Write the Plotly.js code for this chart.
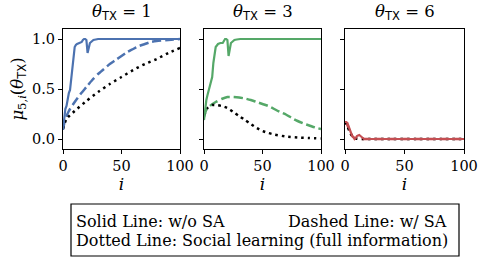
<!DOCTYPE html>
<html>
<head>
<meta charset="utf-8">
<script src="https://cdn.plot.ly/plotly-3.0.1.min.js"></script>
<style>body{margin:0;padding:0;background:#fff}#chart{width:485px;height:260px}</style>
</head>
<body>
<div id="chart"></div>
<script>
// ---- data ----
var thetaValues = [1, 3, 6];

// panel 1 (theta = 1)
var p1SolidX = [0, 1, 2, 3, 4, 5, 6, 7, 8, 9, 10, 11, 12, 14, 16, 17, 18, 19, 20, 21, 22, 23, 24, 26, 28, 30, 40, 60, 80, 100];
var p1SolidY = [0.09, 0.2, 0.3, 0.33, 0.42, 0.46, 0.49, 0.6, 0.72, 0.85, 0.92, 0.94, 0.95, 0.96, 0.97, 0.99, 1.0, 1.0, 0.99, 0.86, 0.92, 0.96, 0.97, 0.99, 0.995, 1.0, 1.0, 1.0, 1.0, 1.0];
var p1DashX = [0, 2, 5, 10, 15, 20, 25, 30, 35, 40, 45, 50, 55, 60, 65, 70, 75, 80, 90, 100];
var p1DashY = [0.1, 0.2, 0.28, 0.37, 0.45, 0.52, 0.59, 0.65, 0.7, 0.75, 0.79, 0.83, 0.87, 0.9, 0.93, 0.95, 0.97, 0.98, 0.99, 1.0];
var p1DotX = [0, 3, 10, 20, 30, 40, 50, 60, 70, 80, 90, 100];
var p1DotY = [0.1, 0.2, 0.28, 0.38, 0.47, 0.55, 0.62, 0.69, 0.75, 0.8, 0.86, 0.91];

// panel 2 (theta = 3)
var p2SolidX = [0, 1, 2, 3, 4, 5, 6, 7, 8, 9, 10, 12, 14, 16, 17, 18, 19, 20, 21, 22, 23, 24, 26, 28, 31, 40, 60, 80, 100];
var p2SolidY = [0.19, 0.3, 0.39, 0.44, 0.48, 0.52, 0.58, 0.62, 0.76, 0.86, 0.92, 0.95, 0.96, 0.96, 0.98, 1.0, 1.0, 0.99, 0.83, 0.9, 0.96, 0.97, 0.99, 0.995, 1.0, 1.0, 1.0, 1.0, 1.0];
var p2DashX = [0, 2, 5, 10, 15, 20, 25, 30, 35, 40, 45, 50, 55, 60, 65, 70, 75, 80, 85, 90, 95, 100];
var p2DashY = [0.22, 0.29, 0.33, 0.37, 0.4, 0.42, 0.42, 0.415, 0.405, 0.39, 0.37, 0.35, 0.33, 0.3, 0.27, 0.245, 0.21, 0.18, 0.155, 0.135, 0.115, 0.1];
var p2DotX = [0, 3, 7, 10, 15, 20, 25, 30, 35, 40, 45, 50, 55, 60, 70, 80, 90, 100];
var p2DotY = [0.24, 0.31, 0.34, 0.34, 0.33, 0.31, 0.27, 0.23, 0.19, 0.15, 0.11, 0.08, 0.06, 0.045, 0.025, 0.015, 0.01, 0.005];

// panel 3 (theta = 6)
var p3SolidX = [0, 1, 2, 3, 4, 5, 6, 7, 8, 9, 10, 11, 12, 13, 14, 15, 16, 20, 40, 60, 80, 100];
var p3SolidY = [0.17, 0.17, 0.16, 0.13, 0.08, 0.05, 0.03, 0.02, 0.0, 0.01, 0.03, 0.035, 0.04, 0.03, 0.02, 0.005, 0.0, 0.0, 0.0, 0.0, 0.0, 0.0];
var p3DashX = [0, 2, 4, 6, 8, 10, 15, 20, 40, 60, 80, 100];
var p3DashY = [0.17, 0.14, 0.08, 0.03, 0.01, 0.005, 0.0, 0.0, 0.0, 0.0, 0.0, 0.0];
var p3DotX = [0, 2, 4, 6, 8, 10, 15, 20, 40, 60, 80, 100];
var p3DotY = [0.17, 0.13, 0.07, 0.03, 0.01, 0.003, 0.0, 0.0, 0.0, 0.0, 0.0, 0.0];

var panelColors = ['#4C72B0', '#55A868', '#C44E52'];
var xTicks = [0, 50, 100];
var yTicks = [0, 0.5, 1.0];
var yTickLabels = ['0.0', '0.5', '1.0'];
var legendLine1Left = 'Solid Line: w/o SA';
var legendLine1Right = 'Dashed Line: w/ SA';
var legendLine2 = 'Dotted Line: Social learning (full information)';

// ---- build ----
var SERIF = '"DejaVu Serif", serif';
var panels = [
  {sx: p1SolidX, sy: p1SolidY, dx: p1DashX, dy: p1DashY, ox: p1DotX, oy: p1DotY},
  {sx: p2SolidX, sy: p2SolidY, dx: p2DashX, dy: p2DashY, ox: p2DotX, oy: p2DotY},
  {sx: p3SolidX, sy: p3SolidY, dx: p3DashX, dy: p3DashY, ox: p3DotX, oy: p3DotY}
];
var traces = [];
panels.forEach(function (p, k) {
  var xa = k === 0 ? 'x' : 'x' + (k + 1);
  var ya = k === 0 ? 'y' : 'y' + (k + 1);
  var c = panelColors[k];
  traces.push({x: p.dx, y: p.dy, xaxis: xa, yaxis: ya, mode: 'lines', line: {color: c, width: 2.5, dash: '9px,4px', shape: 'spline', smoothing: 0.6}, hoverinfo: 'skip'});
  traces.push({x: p.ox, y: p.oy, xaxis: xa, yaxis: ya, mode: 'lines', line: {color: '#000', width: 2.5, dash: '2.5px,4px', shape: 'spline', smoothing: 0.6}, hoverinfo: 'skip'});
  traces.push({x: p.sx, y: p.sy, xaxis: xa, yaxis: ya, mode: 'lines', line: {color: c, width: 2.2}, hoverinfo: 'skip'});
});

var W = 485, H = 260;
var xDomains = [[63 / W, 180 / W], [204 / W, 321 / W], [345 / W, 464 / W]];
var yDomain = [1 - 149 / H, 1 - 29 / H];

var layout = {
  width: W, height: H,
  margin: {l: 0, r: 0, t: 0, b: 0},
  paper_bgcolor: '#fff', plot_bgcolor: '#fff',
  showlegend: false,
  font: {family: SERIF, size: 14, color: '#000'},
  annotations: [],
  shapes: [{type: 'rect', xref: 'paper', yref: 'paper', x0: 71 / W, x1: 459 / W, y0: 1 - 256 / H, y1: 1 - 204 / H, line: {color: '#000', width: 1.2}, fillcolor: 'rgba(0,0,0,0)'}]
};
var sub = '<span style="font-family:\'DejaVu Sans\'">TX</span>';
for (var k = 0; k < 3; k++) {
  var sfx = k === 0 ? '' : String(k + 1);
  layout['xaxis' + sfx] = {
    domain: xDomains[k], range: [0, 100], anchor: 'y' + sfx,
    tickvals: xTicks, ticktext: xTicks.map(String), ticks: 'outside', ticklen: 4, tickwidth: 1, tickcolor: '#000',
    showline: true, linecolor: '#000', linewidth: 1, mirror: true, showgrid: false, zeroline: false,
    tickfont: {family: SERIF, size: 14.5},
    title: {text: '<i>i</i>', font: {family: SERIF, size: 17}, standoff: 3}
  };
  layout['yaxis' + sfx] = {
    domain: yDomain, range: [-0.1, 1.1], anchor: 'x' + sfx,
    tickvals: yTicks, ticktext: k === 0 ? yTickLabels : ['', '', ''], ticks: 'outside', ticklen: 4, tickwidth: 1, tickcolor: '#000',
    showline: true, linecolor: '#000', linewidth: 1, mirror: true, showgrid: false, zeroline: false,
    tickfont: {family: SERIF, size: 14.5}
  };
  layout.annotations.push({
    xref: 'paper', yref: 'paper', x: (xDomains[k][0] + xDomains[k][1]) / 2, y: 1 - 12 / H,
    text: '<i>θ</i><sub>' + sub + '</sub> = ' + thetaValues[k],
    showarrow: false, xanchor: 'center', yanchor: 'middle', font: {family: SERIF, size: 16.5}
  });
}
layout.yaxis.title = {text: '<i>μ</i><sub>5,<i>i</i></sub>(<i>θ</i><sub>' + sub + '</sub>)', font: {family: SERIF, size: 16.5}, standoff: 4};

layout.annotations.push({
  xref: 'paper', yref: 'paper', x: 74 / W, y: 1 - 221 / H, xanchor: 'left', yanchor: 'middle', showarrow: false,
  text: legendLine1Left, font: {family: SERIF, size: 16}
});
layout.annotations.push({
  xref: 'paper', yref: 'paper', x: 449 / W, y: 1 - 221 / H, xanchor: 'right', yanchor: 'middle', showarrow: false,
  text: legendLine1Right, font: {family: SERIF, size: 16}
});
layout.annotations.push({
  xref: 'paper', yref: 'paper', x: 74 / W, y: 1 - 240 / H, xanchor: 'left', yanchor: 'middle', showarrow: false,
  text: legendLine2, font: {family: SERIF, size: 16}
});

Plotly.newPlot('chart', traces, layout, {staticPlot: true, displayModeBar: false});
</script>
</body>
</html>
